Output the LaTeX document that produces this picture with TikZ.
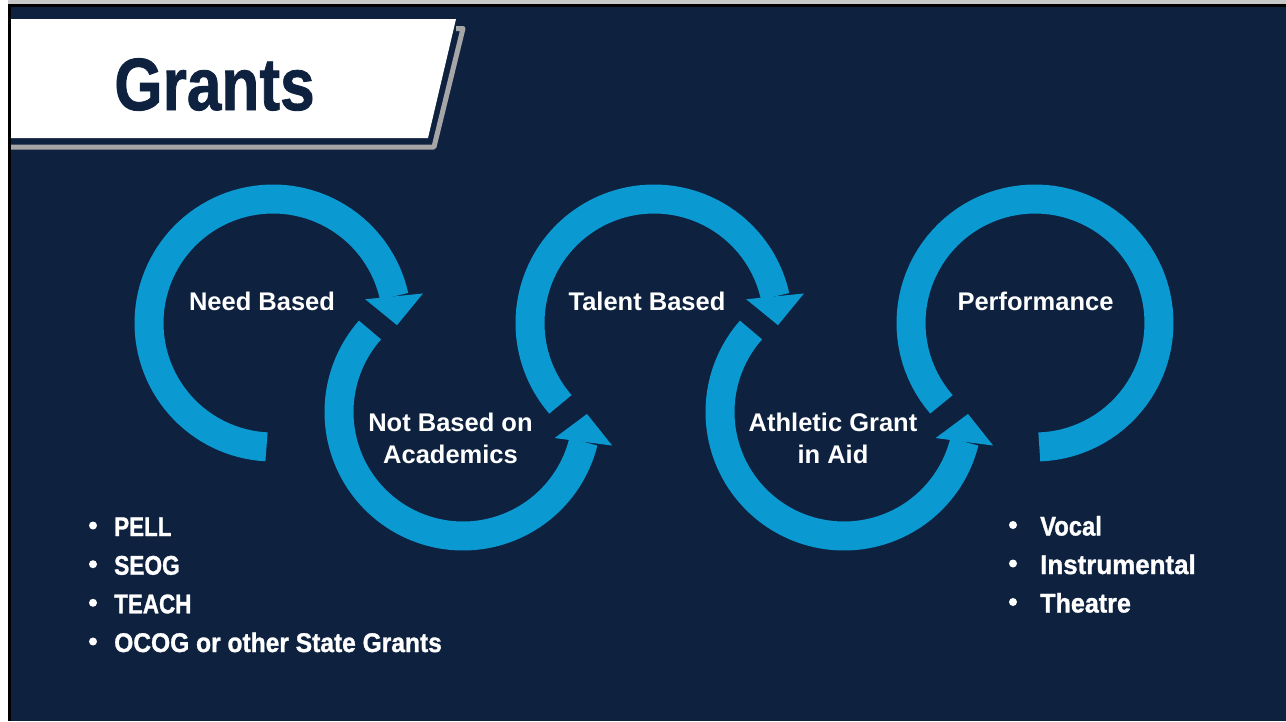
\documentclass[tikz,border=0pt]{standalone}
\usepackage{fontspec}
\setmainfont{Liberation Sans}
\newfontfamily\heavyfont{Liberation Sans}[BoldFeatures={FakeBold=1.2}]
\usepackage{graphicx}
\usetikzlibrary{calc}
\definecolor{navy}{RGB}{14,34,64}
\definecolor{ringblue}{RGB}{10,153,208}
\definecolor{shadowgray}{RGB}{166,166,166}
\definecolor{topgray}{RGB}{200,200,200}
\newcommand{\condtext}[2]{\scalebox{#1}[1]{#2}}
\newcommand{\ringarc}[4]{\draw[ring] plot[domain=#3:#4, samples=90] ({#1+124*cos(\x)},{#2+124*sin(\x)});}
\newcommand{\ringhead}[5]{%
  \coordinate (#5b) at ($(#1,#2)+(#3:124)$);
  \coordinate (#5t) at ($(#1,#2)+(#4:124)$);
  \fill[head] ($(#5b)!29pt!90:(#5t)$) -- (#5t) -- ($(#5b)!29pt!-90:(#5t)$) -- cycle;}
\tikzset{
  ring/.style={draw=ringblue, line width=29pt, line cap=butt, line join=round},
  head/.style={fill=ringblue, draw=none},
  lbl/.style={text=white, font=\bfseries\fontsize{25.5}{30}\selectfont, anchor=base, inner sep=0pt},
  itemtext/.style={text=white, font=\heavyfont\bfseries\fontsize{27}{32}\selectfont, anchor=base west, inner sep=0pt},
  bulletdot/.style={fill=white, draw=none, circle, minimum size=8pt, inner sep=0pt},
  titletext/.style={text=navy, font=\heavyfont\bfseries\fontsize{74}{80}\selectfont, anchor=base, inner sep=0pt},
}
\begin{document}
\begin{tikzpicture}[x=1pt,y=-1pt]
\useasboundingbox (0,0) rectangle (1286,721);
% frame
\fill[white] (0,0) rectangle (1286,721);
\fill[topgray] (8,0) rectangle (1286,4);
\fill[black] (8,4) rectangle (1286,7);
\fill[black] (8,4) rectangle (11,721);
\fill[navy] (11,7) rectangle (1286,721);
% title banner
\draw[shadowgray, line width=5pt, line join=round] (456,28.5) -- (463,28.5) -- (434,147) -- (11,147);
\fill[white] (11,19) -- (456,19) -- (428,138) -- (11,138) -- cycle;
\node[titletext] (title) at (214.5,110) {\condtext{0.84}{Grants}};
% rings
\ringarc{273}{323}{93}{347.6}
\ringhead{273}{323}{347.6}{361}{hA}
\ringarc{463}{412}{13.9}{221.4}
\ringhead{463}{412}{13.9}{0.9}{hB}
\ringarc{654}{323}{139}{347.6}
\ringhead{654}{323}{347.6}{361}{hC}
\ringarc{844}{412}{13.9}{221.4}
\ringhead{844}{412}{13.9}{0.9}{hD}
\ringarc{1035}{323}{139}{448}
% ring labels
\node[lbl] (need) at (262,310) {Need Based};
\node[lbl] (talent) at (647,310) {Talent Based};
\node[lbl] (perf) at (1035.5,310) {Performance};
\node[lbl] (notbasedA) at (450.5,431) {Not Based on};
\node[lbl] (notbasedB) at (450.5,463) {Academics};
\node[lbl] (athlA) at (833,431) {Athletic Grant};
\node[lbl] (athlB) at (833,463) {in Aid};
% left list
\node[bulletdot] (bA) at (93,525.5) {};
\node[itemtext] (pell) at (114,536) {\condtext{0.83}{PELL}};
\node[bulletdot] (bB) at (93,564.2) {};
\node[itemtext] (seog) at (114,574.7) {\condtext{0.84}{SEOG}};
\node[bulletdot] (bC) at (93,602.8) {};
\node[itemtext] (teach) at (114,613.3) {\condtext{0.83}{TEACH}};
\node[bulletdot] (bD) at (93,641.5) {};
\node[itemtext] (ocog) at (114,652) {\condtext{0.91}{OCOG or other State Grants}};
% right list
\node[bulletdot] (bE) at (1013,525) {};
\node[itemtext] (vocal) at (1040,535.5) {\condtext{0.88}{Vocal}};
\node[bulletdot] (bF) at (1013,563.5) {};
\node[itemtext] (instr) at (1040,574) {\condtext{0.96}{Instrumental}};
\node[bulletdot] (bG) at (1013,602) {};
\node[itemtext] (theatre) at (1040,612.5) {\condtext{0.93}{Theatre}};
\end{tikzpicture}
\end{document}
